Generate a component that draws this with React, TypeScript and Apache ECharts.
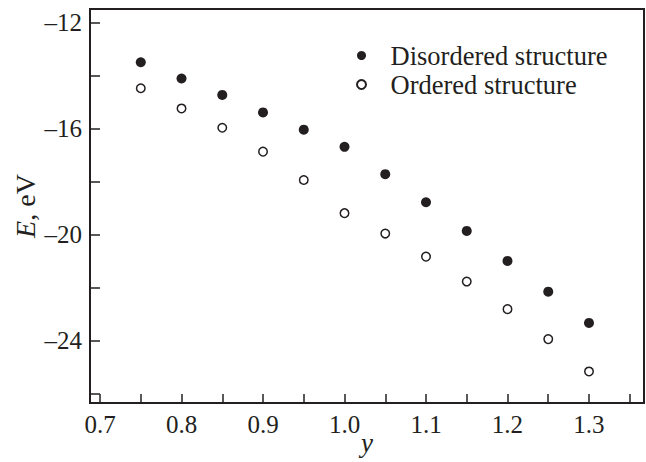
import React, { useEffect, useRef } from "react";
import * as echarts from "echarts";

const yValues = [0.75, 0.8, 0.85, 0.9, 0.95, 1.0, 1.05, 1.1, 1.15, 1.2, 1.25, 1.3];
const disordered = [-13.49, -14.1, -14.72, -15.38, -16.03, -16.68, -17.71, -18.77, -19.85, -20.98, -22.14, -23.32];
const ordered = [-14.47, -15.23, -15.96, -16.86, -17.93, -19.18, -19.95, -20.82, -21.76, -22.8, -23.93, -25.15];
const seriesNames = ["Disordered structure", "Ordered structure"];
const xTickValues = [0.7, 0.75, 0.8, 0.85, 0.9, 0.95, 1.0, 1.05, 1.1, 1.15, 1.2, 1.25, 1.3, 1.35];
const xLabelValues = [0.7, 0.8, 0.9, 1.0, 1.1, 1.2, 1.3];
const yTickValues = [-12, -14, -16, -18, -20, -22, -24, -26];
const yLabelValues = [-12, -16, -20, -24];

const FONT = "'Liberation Serif', 'Times New Roman', 'DejaVu Serif', serif";
const INK = "#231f20";

export default function App() {
  const ref = useRef<HTMLDivElement>(null);
  useEffect(() => {
    document.body.style.margin = "0";
    const chart = echarts.init(ref.current!, null, { renderer: "svg" });
    chart.setOption({
      animation: false,
      backgroundColor: "#fff",
      textStyle: { fontFamily: FONT, color: INK },
      grid: {
        left: 90,
        right: 2,
        top: 9,
        bottom: 59,
        show: true,
        borderColor: INK,
        borderWidth: 2,
        containLabel: false,
        outerBoundsMode: "none",
      },
      legend: {
        orient: "vertical",
        left: 351,
        top: 37,
        itemWidth: 48,
        itemHeight: 9,
        itemGap: 2,
        data: seriesNames,
        textStyle: { fontFamily: FONT, fontSize: 26.5, color: INK, lineHeight: 26 },
      },
      xAxis: {
        type: "value",
        min: 0.6877,
        max: 1.3675,
        name: "y",
        nameLocation: "middle",
        nameGap: 26,
        nameMoveOverlap: false,
        nameTextStyle: { fontFamily: FONT, fontSize: 27, fontStyle: "italic", color: INK, lineHeight: 27 },
        axisLine: { show: true, lineStyle: { color: INK, width: 2 } },
        axisTick: {
          show: true,
          inside: true,
          length: 9,
          customValues: xTickValues,
          lineStyle: { color: INK, width: 1.5 },
        },
        axisLabel: {
          customValues: xLabelValues,
          margin: 9,
          fontFamily: FONT,
          fontSize: 25,
          color: INK,
          formatter: (v: number) => v.toFixed(1),
        },
        splitLine: { show: false },
      },
      yAxis: {
        type: "value",
        min: -26.34,
        max: -11.48,
        name: "{i|E}, eV",
        nameLocation: "middle",
        nameGap: 51,
        nameRotate: 90,
        nameMoveOverlap: false,
        nameTextStyle: {
          fontFamily: FONT,
          fontSize: 28,
          color: INK,
          rich: { i: { fontFamily: FONT, fontSize: 28, fontStyle: "italic", color: INK } },
        },
        axisLine: { show: true, lineStyle: { color: INK, width: 2 } },
        axisTick: {
          show: true,
          inside: true,
          length: 10,
          customValues: yTickValues,
          lineStyle: { color: INK, width: 1.5 },
        },
        axisLabel: {
          customValues: yLabelValues,
          margin: 8,
          fontFamily: FONT,
          fontSize: 25,
          color: INK,
          formatter: (v: number) => (v < 0 ? "\u2013" + Math.abs(v) : String(v)),
        },
        splitLine: { show: false },
      },
      series: [
        {
          name: seriesNames[0],
          type: "scatter",
          symbol: "circle",
          symbolSize: 10,
          itemStyle: { color: INK, opacity: 1 },
          data: yValues.map((x, i) => [x, disordered[i]]),
        },
        {
          name: seriesNames[1],
          type: "scatter",
          symbol: "circle",
          symbolSize: 8.5,
          itemStyle: { color: "#fff", borderColor: INK, borderWidth: 1.5, opacity: 1 },
          data: yValues.map((x, i) => [x, ordered[i]]),
        },
      ],
    });
    return () => chart.dispose();
  }, []);
  return <div ref={ref} style={{ width: 646, height: 462 }} />;
}
